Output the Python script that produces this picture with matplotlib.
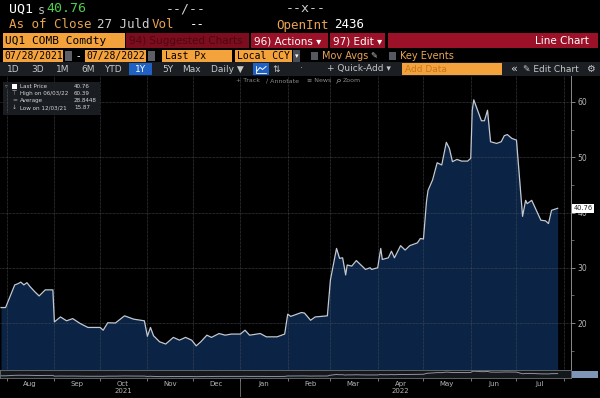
import matplotlib
matplotlib.use("Agg")
import matplotlib.pyplot as plt
import matplotlib.dates as mdates
from matplotlib.patches import Rectangle, Circle
from matplotlib.ticker import MultipleLocator
import pandas as pd

# UQ1 COMB Comdty, last price
dates = [
    "2021-07-28", "2021-07-31", "2021-08-06", "2021-08-08", "2021-08-10", "2021-08-12",
    "2021-08-14", "2021-08-16", "2021-08-19", "2021-08-22", "2021-08-26", "2021-08-31",
    "2021-09-01", "2021-09-05", "2021-09-09", "2021-09-13", "2021-09-18", "2021-09-23",
    "2021-10-01", "2021-10-03", "2021-10-06", "2021-10-11", "2021-10-17", "2021-10-23",
    "2021-10-30", "2021-11-01", "2021-11-03", "2021-11-05", "2021-11-09", "2021-11-13",
    "2021-11-18", "2021-11-22", "2021-11-26", "2021-11-30", "2021-12-03", "2021-12-06",
    "2021-12-10", "2021-12-13", "2021-12-18", "2021-12-22", "2021-12-26", "2022-01-01",
    "2022-01-04", "2022-01-07", "2022-01-14", "2022-01-18", "2022-01-25", "2022-01-30",
    "2022-02-01", "2022-02-03", "2022-02-07", "2022-02-10", "2022-02-12", "2022-02-16",
    "2022-02-19", "2022-02-27", "2022-03-01", "2022-03-05", "2022-03-07", "2022-03-09",
    "2022-03-11", "2022-03-12", "2022-03-15", "2022-03-18", "2022-03-24", "2022-03-27",
    "2022-03-28", "2022-04-01", "2022-04-03", "2022-04-04", "2022-04-08", "2022-04-10",
    "2022-04-12", "2022-04-16", "2022-04-19", "2022-04-22", "2022-04-27", "2022-04-29",
    "2022-05-01", "2022-05-03", "2022-05-04", "2022-05-07", "2022-05-10", "2022-05-13",
    "2022-05-16", "2022-05-18", "2022-05-20", "2022-05-23", "2022-05-26", "2022-05-30",
    "2022-06-01", "2022-06-02", "2022-06-03", "2022-06-08", "2022-06-10", "2022-06-12",
    "2022-06-14", "2022-06-18", "2022-06-21", "2022-06-23", "2022-06-25", "2022-06-28",
    "2022-07-01", "2022-07-05", "2022-07-07", "2022-07-08", "2022-07-11", "2022-07-14",
    "2022-07-17", "2022-07-20", "2022-07-22", "2022-07-24", "2022-07-28",
]
prices = [
    22.8, 22.8, 26.9, 27.1, 27.4, 26.9,
    27.3, 26.6, 25.7, 24.9, 26.0, 26.0,
    20.2, 21.1, 20.4, 20.8, 19.9, 19.2,
    19.2, 18.7, 20.05, 20.0, 21.3, 20.7,
    20.4, 17.6, 19.2, 17.7, 16.6, 16.2,
    17.4, 16.9, 17.4, 16.9, 15.87, 16.6,
    17.8, 17.4, 18.1, 17.8, 18.0, 18.0,
    18.7, 17.8, 18.1, 17.5, 17.5, 18.0,
    21.6, 21.2, 21.6, 21.9, 21.8, 20.5,
    21.1, 21.3, 27.8, 33.5, 31.7, 31.8,
    28.7, 30.5, 30.3, 31.3, 29.7, 30.0,
    29.7, 30.0, 33.5, 31.5, 31.8, 33.0,
    31.8, 34.0, 33.2, 34.0, 34.5, 35.3,
    35.2, 42.0, 44.0, 45.9, 49.0, 48.6,
    52.7, 51.6, 49.2, 49.6, 49.3, 49.3,
    49.8, 58.5, 60.39, 56.6, 56.6, 58.5,
    52.8, 52.5, 52.8, 53.9, 54.1, 53.4,
    53.1, 39.3, 42.2, 41.6, 42.2, 40.4,
    38.6, 38.5, 38.0, 40.4, 40.76,
]
dates = pd.to_datetime(dates)

legend_rows = [
    ("Last Price", "40.76"),
    ("High on 06/03/22", "60.39"),
    ("Average", "28.8448"),
    ("Low on 12/03/21", "15.87"),
]
last_price = 40.76

W, H = 600, 398
fig = plt.figure(figsize=(6, 3.98), dpi=100, facecolor="black")

ORANGE = "#f4a23c"
AMBER = "#e9a352"
RED = "#9a1128"
NAVY = "#0b2445"


def fx(x):
    return x / W


def fy(y):
    return 1 - y / H


def box(x0, y0, x1, y1, color, **kw):
    fig.patches.append(Rectangle((fx(x0), fy(y1)), (x1 - x0) / W, (y1 - y0) / H,
                                 transform=fig.transFigure, facecolor=color,
                                 edgecolor="none", **kw))


def seg(xs, ys, color, lw=0.6, **kw):
    fig.lines.append(plt.Line2D([fx(x) for x in xs], [fy(y) for y in ys],
                                transform=fig.transFigure, color=color, lw=lw, **kw))


def txt(x, y, s, color="white", size=7, ha="left", family="DejaVu Sans", **kw):
    fig.text(fx(x), fy(y), s, color=color, fontsize=size, ha=ha, va="center",
             family=family, **kw)


MONO = "DejaVu Sans Mono"

# row 1 / row 2: quote header
txt(9, 9, "UQ1", size=9.5, family=MONO)
txt(38, 10, "s", color="#bbbbbb", size=8.5, family=MONO)
txt(46, 9, "40.76", color="#4cd04a", size=9.5, family=MONO)
txt(166, 9, "--/--", color="#cfcfcf", size=9.5, family=MONO)
txt(286, 9, "--x--", color="#cfcfcf", size=9.5, family=MONO)
txt(9, 25, "As of Close", color=AMBER, size=9, family=MONO)
txt(97, 25, "27 Juld", color="#cfcfcf", size=9, family=MONO)
txt(152, 25, "Vol", color=AMBER, size=9, family=MONO)
txt(190, 25, "--", color="white", size=9, family=MONO)
txt(276, 25, "OpenInt", color=AMBER, size=9, family=MONO)
txt(334, 25, "2436", color="white", size=9, family=MONO)

# row 3: security / menus
box(3, 33, 125, 48, ORANGE)
txt(5, 41, "UQ1 COMB Comdty", color="black", size=8, family=MONO)
box(126, 33, 249, 48, "#7c0d1e")
txt(129, 41, "94) Suggested Charts", color="#4e0712", size=7.5)
box(251, 33, 328, 48, RED)
txt(254, 41, "96) Actions \u25be", size=7.5)
box(330, 33, 385, 48, RED)
txt(333, 41, "97) Edit \u25be", size=7.5)
box(388, 33, 598, 48, RED)
txt(589, 41, "Line Chart", size=7.5, ha="right")

# row 4: dates, field, currency
box(3, 50, 63, 62, ORANGE)
txt(4, 56, "07/28/2021", color="black", size=7, family=MONO)
box(65, 51, 72, 61, "#5c5f66")
txt(77, 56, "-", size=7)
box(85, 50, 146, 62, ORANGE)
txt(86, 56, "07/28/2022", color="black", size=7, family=MONO)
box(148, 51, 155, 61, "#5c5f66")
box(162, 50, 232, 62, ORANGE)
txt(165, 56, "Last Px", color="black", size=7, family=MONO)
box(235, 50, 292, 62, ORANGE)
txt(237, 56, "Local CCY", color="black", size=7, family=MONO)
box(293, 50, 300, 62, "#4a4d53")
txt(296.5, 56, "\u25be", size=5, ha="center")
box(311, 52, 318, 60, "#55585e")
txt(322, 56, "Mov Avgs", color=AMBER, size=7)
txt(370, 56, "\u270e", color="#cccccc", size=6)
box(389, 52, 396, 60, "#55585e")
txt(400, 56, "Key Events", color=AMBER, size=7)

# row 5: period buttons and tools
box(0, 62, 600, 76, "#1b1e23")
for x, s in [(13, "1D"), (38, "3D"), (63, "1M"), (88, "6M"), (113, "YTD"),
             (168, "5Y"), (191, "Max")]:
    txt(x, 69, s, color="#c8c8c8", size=6.5, ha="center")
box(129, 63, 152, 75, "#1f62c4")
txt(140.5, 69, "1Y", size=6.5, ha="center")
txt(211, 69, "Daily \u25bc", color="#c8c8c8", size=6.5)
box(253, 63, 269, 75, "#1f62c4")
seg([256, 256, 266], [65.5, 72.5, 72.5], "white", lw=0.6)
seg([257, 260, 262.5, 266], [71, 67.5, 69.5, 66.5], "white", lw=0.7)
txt(276, 69, "\u21c5", color="#c8c8c8", size=6.5, ha="center")
txt(301, 69, "\u00b7", color="#c8c8c8", size=6.5, ha="center")
txt(327, 69, "+ Quick-Add \u25be", color="#c8c8c8", size=6.5)
box(402, 63, 502, 75, ORANGE)
txt(405, 69, "Add Data", color="#c7781d", size=6.5)
txt(510, 69, "\u00ab", color="#dddddd", size=8)
txt(523, 69, "\u270e Edit Chart", color="#c8c8c8", size=6.5)
txt(590, 69, "\u2699", color="#c8c8c8", size=7, ha="center")

# main chart
ax = fig.add_axes([fx(0), fy(370), fx(571), (370 - 76) / H])
ax.set_facecolor("black")
ax.fill_between(dates, prices, 0, color=NAVY, lw=0, zorder=1)
ax.plot(dates, prices, color="#c3c9d2", lw=0.9, zorder=3)
ax.set_ylim(11.5, 64.7)
ax.set_xlim(pd.Timestamp("2021-07-27 08:00"), pd.Timestamp("2022-08-05 18:00"))

ax.xaxis.set_major_locator(mdates.MonthLocator())
ax.yaxis.set_major_locator(MultipleLocator(10))
ax.yaxis.set_minor_locator(MultipleLocator(5))
ax.yaxis.tick_right()
ax.tick_params(axis="x", length=0, labelbottom=False)
ax.tick_params(axis="y", which="major", length=3, width=0.6, color="#9a9a9a",
               labelsize=5.5, labelcolor="#b5b5b5", pad=1.5)
ax.tick_params(axis="y", which="minor", length=2, width=0.5, color="#8a8a8a")
ax.grid(True, which="major", color="#4a4f57", lw=0.5, linestyle=(0, (1, 1)), zorder=2)
for side in ["top", "left", "bottom"]:
    ax.spines[side].set_visible(False)
ax.spines["right"].set_color("#8a8a8a")
ax.spines["right"].set_linewidth(0.7)

# last price tag (sits on top of the 40 label, as on the terminal)
ax.text(1.004, last_price, "40.76", transform=ax.get_yaxis_transform(),
        fontsize=4.8, color="#222222", va="center", ha="left", clip_on=False, zorder=10,
        bbox=dict(boxstyle="square,pad=0.25", facecolor="white", edgecolor="none"))

# chart toolbar
for x, s in [(236, "+ Track"), (266, "\u2215 Annotate"), (307, "\u2261 News")]:
    txt(x, 81, s, color="#8a8a8a", size=4.5)
fig.patches.append(Circle((fx(339), fy(80.5)), 1.6 / W, transform=fig.transFigure,
                          facecolor="none", edgecolor="#8a8a8a", lw=0.5))
seg([337.8, 336.5], [81.8, 83.2], "#8a8a8a", lw=0.5)
txt(343, 81, "Zoom", color="#8a8a8a", size=4.5)

# legend
box(3, 82, 100, 115, "#1c1f24", alpha=0.92)
box(12, 83.5, 17, 88.5, "white")
marks = ["", "\u22a4", "=", "\u2193"]
for i, (name, val) in enumerate(legend_rows):
    yy = 86 + i * 7.3
    if marks[i]:
        txt(14.5, yy, marks[i], color="#bbbbbb", size=4.2, ha="center")
    txt(20, yy, name, color="#d5d5d5", size=4.1)
    txt(74, yy, val, color="#d5d5d5", size=4.1)
txt(6, 86, "\u25bf", color="#888888", size=4, ha="center")
seg([6.5, 6.5], [89, 112], "#6a6a6a", lw=0.5, linestyle=(0, (1, 1)))

# navigator strip with month labels
ax2 = fig.add_axes([fx(0), fy(378), fx(571), 8 / H])
ax2.set_facecolor("#14171b")
ax2.plot(dates, prices, color="#8d949e", lw=0.7)
ax2.set_xlim(ax.get_xlim())
ax2.set_ylim(5, 70)
ax2.set_yticks([])
for side in ax2.spines:
    ax2.spines[side].set_color("#6d7278")
    ax2.spines[side].set_linewidth(0.6)
ax2.xaxis.set_major_locator(mdates.MonthLocator())
ax2.xaxis.set_major_formatter(plt.NullFormatter())
ax2.xaxis.set_minor_locator(mdates.MonthLocator(bymonthday=16))


def month_label(v, pos):
    d = mdates.num2date(v)
    if d.month == 10 and d.year == 2021:
        return "Oct\n2021"
    if d.month == 4 and d.year == 2022:
        return "Apr\n2022"
    return d.strftime("%b")


ax2.xaxis.set_minor_formatter(plt.FuncFormatter(month_label))
ax2.tick_params(axis="x", which="major", length=2, width=0.6, color="#8a8a8a")
ax2.tick_params(axis="x", which="minor", length=0, labelsize=5, labelcolor="#b5b5b5",
                pad=2.5)
for lab in ax2.xaxis.get_minorticklabels():
    lab.set_linespacing(1.1)
    lab.set_verticalalignment("top")
jan = pd.Timestamp("2022-01-01")
ax2.plot([jan, jan], [-0.3, -2.2], transform=ax2.get_xaxis_transform(), clip_on=False,
         color="#777777", lw=0.6)

box(572, 371, 598, 378, "#7f95b6")

fig.savefig("out.png", dpi=100, facecolor="black")
